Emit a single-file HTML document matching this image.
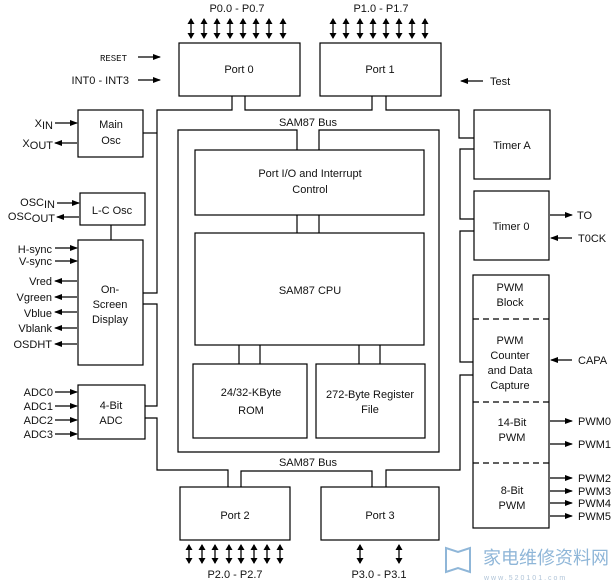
<!DOCTYPE html>
<html><head><meta charset="utf-8"><style>
html,body{margin:0;padding:0;background:#fff;}
svg{display:block;}
text{font-family:"Liberation Sans",Arial,sans-serif;font-size:11px;fill:#111;}
</style></head><body>
<svg width="615" height="585" viewBox="0 0 615 585" xmlns="http://www.w3.org/2000/svg">
<defs>
<marker id="a" markerWidth="8" markerHeight="6" refX="7" refY="3" orient="auto" markerUnits="userSpaceOnUse"><path d="M0,0 L8,3 L0,6 z" fill="#000"/></marker>
<marker id="d" markerWidth="6" markerHeight="7" refX="5" refY="3.5" orient="auto-start-reverse" markerUnits="userSpaceOnUse"><path d="M0,0 L6,3.5 L0,7 z" fill="#000"/></marker>
</defs>
<g fill="none" stroke="#000" stroke-width="1.2">
<!-- boxes -->
<rect x="179" y="43" width="121" height="53"/>
<rect x="320" y="43" width="121" height="53"/>
<rect x="78" y="110" width="65" height="47"/>
<rect x="80" y="193" width="65" height="32"/>
<rect x="78" y="240" width="65" height="125"/>
<rect x="78" y="385" width="67" height="54"/>
<rect x="195" y="150" width="229" height="65"/>
<rect x="195" y="233" width="229" height="112"/>
<rect x="193" y="364" width="114" height="74"/>
<rect x="316" y="364" width="109" height="74"/>
<rect x="474" y="110" width="76" height="69"/>
<rect x="474" y="191" width="75" height="69"/>
<rect x="473" y="275" width="76" height="253"/>
<rect x="180" y="487" width="110" height="53"/>
<rect x="321" y="487" width="118" height="53"/>
<!-- dashed -->
<path d="M473 319H549M473 402H549M473 463H549" stroke-dasharray="6,4"/>
<!-- outer bus -->
<path d="M297 150V130H178V452H439V130H319V150"/>
<path d="M297 215V233M319 215V233M239 345V364M260 345V364M359 345V364M380 345V364"/>
<!-- bus lines -->
<path d="M232 96V110H157V293H143"/>
<path d="M157 133H143"/>
<path d="M245 96V110H372V96"/>
<path d="M386 96V110H459V138H474"/>
<path d="M474 149H460V219H474"/>
<path d="M474 231H460V362H473"/>
<path d="M473 375H460V470H386V487"/>
<path d="M372 487V471H241V487"/>
<path d="M143 304H157V406H145"/>
<path d="M145 418H157V470H228V487"/>
<path d="M111 225V240"/>
</g>
<!-- arrows -->
<g stroke="#000" stroke-width="1.3" fill="none">
<path d="M138 57H160" marker-end="url(#a)"/>
<path d="M138 80H160" marker-end="url(#a)"/>
<path d="M483 81H461" marker-end="url(#a)"/>
<path d="M55 123H77" marker-end="url(#a)"/>
<path d="M77 143H55" marker-end="url(#a)"/>
<path d="M57 203H79" marker-end="url(#a)"/>
<path d="M79 217H57" marker-end="url(#a)"/>
<path d="M55 248H77" marker-end="url(#a)"/>
<path d="M55 261H77" marker-end="url(#a)"/>
<path d="M77 281H55" marker-end="url(#a)"/>
<path d="M77 297H55" marker-end="url(#a)"/>
<path d="M77 312H55" marker-end="url(#a)"/>
<path d="M77 328H55" marker-end="url(#a)"/>
<path d="M77 344H55" marker-end="url(#a)"/>
<path d="M55 392H77" marker-end="url(#a)"/>
<path d="M55 406H77" marker-end="url(#a)"/>
<path d="M55 420H77" marker-end="url(#a)"/>
<path d="M55 434H77" marker-end="url(#a)"/>
<path d="M550 215H572" marker-end="url(#a)"/>
<path d="M572 238H551" marker-end="url(#a)"/>
<path d="M572 360H551" marker-end="url(#a)"/>
<path d="M550 421H572" marker-end="url(#a)"/>
<path d="M550 444H572" marker-end="url(#a)"/>
<path d="M550 478H572" marker-end="url(#a)"/>
<path d="M550 491H572" marker-end="url(#a)"/>
<path d="M550 503H572" marker-end="url(#a)"/>
<path d="M550 516H572" marker-end="url(#a)"/>
<g marker-start="url(#d)" marker-end="url(#d)">
<path d="M191 19V38"/><path d="M204 19V38"/><path d="M217 19V38"/><path d="M230 19V38"/><path d="M243 19V38"/><path d="M256 19V38"/><path d="M269 19V38"/><path d="M283 19V38"/>
<path d="M333 19V38"/><path d="M346 19V38"/><path d="M360 19V38"/><path d="M373 19V38"/><path d="M386 19V38"/><path d="M399 19V38"/><path d="M412 19V38"/><path d="M425 19V38"/>
<path d="M189 545V563"/><path d="M202 545V563"/><path d="M215 545V563"/><path d="M229 545V563"/><path d="M241 545V563"/><path d="M254 545V563"/><path d="M267 545V563"/><path d="M280 545V563"/>
<path d="M360 545V563"/><path d="M399 545V563"/>
</g>
</g>
<!-- text -->
<g text-anchor="middle">
<text x="237" y="12">P0.0 - P0.7</text>
<text x="381" y="12">P1.0 - P1.7</text>
<text x="239" y="73">Port 0</text>
<text x="380" y="73">Port 1</text>
<text x="111" y="128">Main</text>
<text x="111" y="144">Osc</text>
<text x="112" y="214">L-C Osc</text>
<text x="110" y="293">On-</text>
<text x="110" y="308">Screen</text>
<text x="110" y="323">Display</text>
<text x="111" y="409">4-Bit</text>
<text x="111" y="424">ADC</text>
<text x="308" y="126">SAM87 Bus</text>
<text x="308" y="466">SAM87 Bus</text>
<text x="310" y="177">Port I/O and Interrupt</text>
<text x="310" y="193">Control</text>
<text x="310" y="294">SAM87 CPU</text>
<text x="251" y="396">24/32-KByte</text>
<text x="251" y="414">ROM</text>
<text x="370" y="398">272-Byte Register</text>
<text x="370" y="413">File</text>
<text x="512" y="149">Timer A</text>
<text x="511" y="230">Timer 0</text>
<text x="510" y="291">PWM</text>
<text x="510" y="306">Block</text>
<text x="510" y="344">PWM</text>
<text x="510" y="359">Counter</text>
<text x="510" y="374">and Data</text>
<text x="510" y="389">Capture</text>
<text x="512" y="426">14-Bit</text>
<text x="512" y="441">PWM</text>
<text x="512" y="494">8-Bit</text>
<text x="512" y="509">PWM</text>
<text x="235" y="519">Port 2</text>
<text x="380" y="519">Port 3</text>
<text x="235" y="578">P2.0 - P2.7</text>
<text x="379" y="578">P3.0 - P3.1</text>
</g>
<g text-anchor="end">
<text x="127" y="61" style="font-family:'Liberation Mono',monospace;font-size:9px">RESET</text>
<text x="129" y="84">INT0 - INT3</text>
<text x="53" y="127">X<tspan dy="2">IN</tspan></text>
<text x="53" y="147">X<tspan dy="2">OUT</tspan></text>
<text x="55" y="206">OSC<tspan dy="2">IN</tspan></text>
<text x="55" y="220">OSC<tspan dy="2">OUT</tspan></text>
<text x="52" y="253">H-sync</text>
<text x="52" y="265">V-sync</text>
<text x="52" y="285">Vred</text>
<text x="52" y="301">Vgreen</text>
<text x="52" y="317">Vblue</text>
<text x="52" y="332">Vblank</text>
<text x="52" y="348">OSDHT</text>
<text x="53" y="396">ADC0</text>
<text x="53" y="410">ADC1</text>
<text x="53" y="424">ADC2</text>
<text x="53" y="438">ADC3</text>
</g>
<text x="490" y="85">Test</text>
<text x="577" y="219">TO</text>
<text x="578" y="242">T0CK</text>
<text x="578" y="364">CAPA</text>
<text x="578" y="425">PWM0</text>
<text x="578" y="448">PWM1</text>
<text x="578" y="482">PWM2</text>
<text x="578" y="495">PWM3</text>
<text x="578" y="507">PWM4</text>
<text x="578" y="520">PWM5</text>
<!-- watermark -->
<g stroke="#8fb6d8" fill="none" stroke-width="2"><path d="M446 548V572L458 568L470 572V548L458 552L446 548Z"/></g>
<text x="483" y="564" style="font-family:'Noto Sans CJK SC',sans-serif;font-size:18px;fill:#8fb6d8">家电维修资料网</text>
<text x="484" y="580" style="font-size:7px;fill:#b0c4d8;letter-spacing:2px">www.520101.com</text>
</svg>
</body></html>
